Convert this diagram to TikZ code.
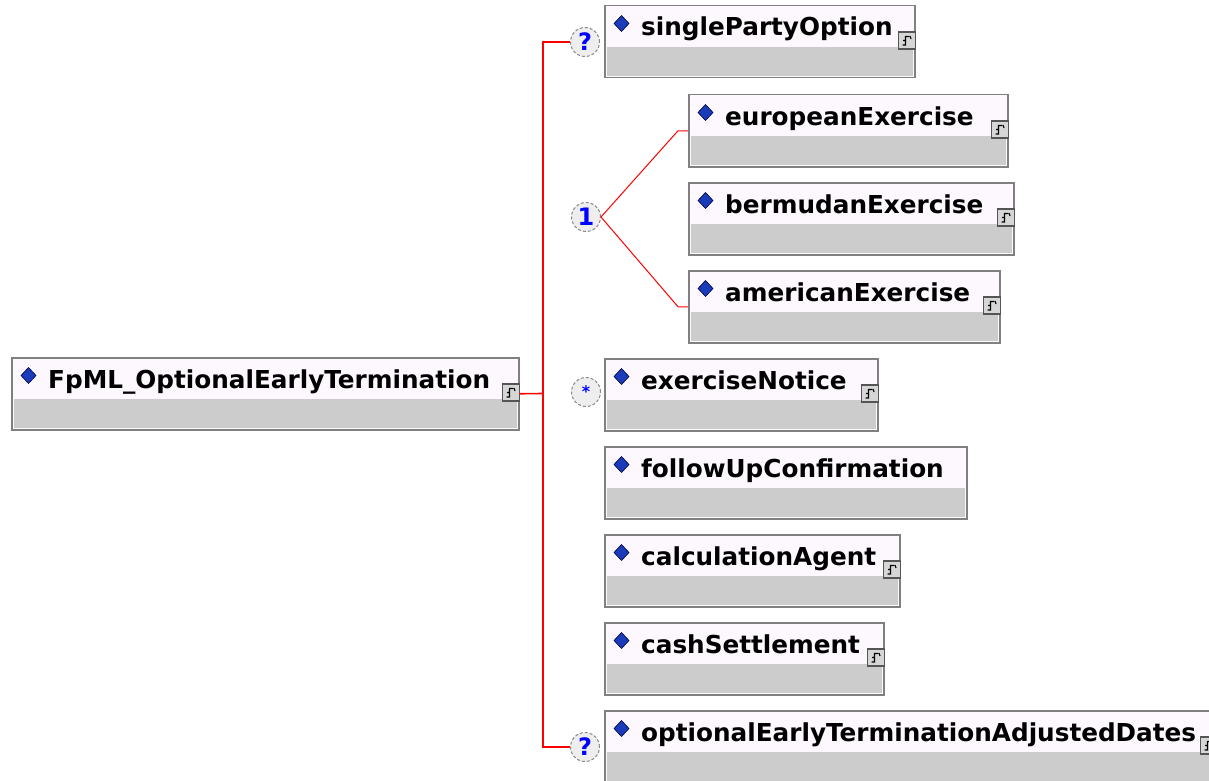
\documentclass[tikz,border=0pt]{standalone}
\usepackage{fontspec}
\newfontfamily\dvs{DejaVu Sans}
\usetikzlibrary{calc}
\definecolor{boxgray}{HTML}{808080}
\definecolor{boxtop}{HTML}{FCF8FD}
\definecolor{bandgray}{HTML}{CCCCCC}
\definecolor{diamblue}{HTML}{1B3CB8}
\definecolor{circfill}{HTML}{EEEEEE}
\definecolor{circline}{HTML}{8A8A8A}
\definecolor{icongray}{HTML}{D6D6D6}
\definecolor{iconline}{HTML}{555555}
\tikzset{
  x=1pt, y=-1pt,
  elembox/.style={draw=boxgray, line width=1.5pt, fill=boxtop, rectangle, inner sep=0pt, minimum height=72pt, anchor=north west},
  elemtext/.style={anchor=base west, inner sep=0pt, font=\dvs\bfseries\fontsize{24.7}{25}\selectfont},
  iconbox/.style={draw=iconline, fill=icongray, line width=1.2pt},
  compcirc/.style={circle, draw=circline, densely dashed, line width=1pt, fill=circfill, minimum size=29pt, inner sep=0pt, text=blue, font=\dvs\bfseries\fontsize{24}{24}\selectfont},
  trunk/.style={draw=red, line width=1.6pt},
  branch/.style={draw=red, line width=1pt},
}
\newcommand\iconmark[1]{%
  \draw[iconbox] ($(#1.north east)+(-17,27)$) rectangle ($(#1.north east)+(0,44)$);
  \draw[black, line width=1.1pt] ($(#1.north east)+(-6.5,31.5)$) -- ($(#1.north east)+(-10,31.5)$) -- ($(#1.north east)+(-10,40)$) -- ($(#1.north east)+(-13,40)$)
     ($(#1.north east)+(-10,35.5)$) -- ($(#1.north east)+(-12.5,35.5)$)
     ($(#1.north east)+(-5.5,31)$) -- ($(#1.north east)+(-4.5,34)$);
}
\newcommand\elem[6]{%
  \node[elembox, minimum width=#4pt] (#1) at (#2,#3) {};
  \fill[bandgray] ($(#1.south west)+(2.5,-2.5)$) rectangle ($(#1.north east)+(-2.5,42)$);
  \fill[diamblue, draw=black!70!blue, line width=0.6pt] ($(#1.north west)+(10,18.5)$) -- ($(#1.north west)+(17.5,10.5)$) -- ($(#1.north west)+(25,18.5)$) -- ($(#1.north west)+(17.5,26.5)$) -- cycle;
  \node[elemtext] (#1-t) at ($(#1.north west)+(37,31)$) {#5};
  \ifnum#6=1 \iconmark{#1}\fi
}
\begin{document}
\begin{tikzpicture}
\useasboundingbox[fill=white] (0,0) rectangle (1209,781);
% elements
\elem{root}{11}{357}{507}{FpML\_OptionalEarlyTermination}{1}
\elem{spo}{604}{5}{310}{singlePartyOption}{1}
\elem{eur}{688}{94}{319}{europeanExercise}{1}
\elem{ber}{688}{182}{325}{bermudanExercise}{1}
\elem{ame}{688}{270}{311}{americanExercise}{1}
\elem{exn}{604}{358}{273}{exerciseNotice}{1}
\elem{fuc}{604}{446}{362}{followUpConfirmation}{0}
\elem{cag}{604}{534}{295}{calculationAgent}{1}
\elem{csh}{604}{622}{279}{cashSettlement}{1}
\elem{oet}{604}{710}{612}{optionalEarlyTerminationAdjustedDates}{1}
% compositors
\node[compcirc] (q1) at (585,42) {?};
\node[compcirc] (c1) at (586,217) {1};
\node[compcirc, font=\dvs\bfseries\fontsize{16}{16}\selectfont] (m1) at (586,392) {*};
\node[compcirc] (q2) at (585,747) {?};
% connectors
\coordinate (tj) at (543,393.5);
\draw[trunk] (root.east) -- (tj);
\draw[trunk] (q1.west) -| (tj) |- (q2.west);
\draw[branch] (c1.east) -- ($(eur.west)+(-10,0)$) -- (eur.west);
\draw[branch] (c1.east) -- ($(ame.west)+(-10,0)$) -- (ame.west);
\end{tikzpicture}
\end{document}
